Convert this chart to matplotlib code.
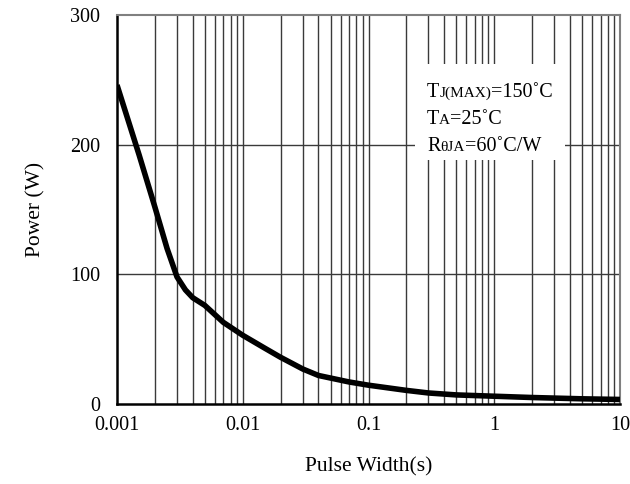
import numpy as np
import matplotlib.pyplot as plt
from matplotlib.ticker import FixedLocator, NullFormatter

plt.rcParams['font.family'] = ['Liberation Serif', 'DejaVu Serif']

# curve
pulse_width = [0.001, 0.0015, 0.002, 0.0025, 0.003, 0.0035, 0.004, 0.005, 0.007,
               0.01, 0.015, 0.02, 0.03, 0.04, 0.05, 0.07, 0.1, 0.2, 0.3, 0.5, 1, 2, 5, 10]
power = [246, 192, 152, 120, 98, 88, 82, 76, 63,
         53, 43, 36, 27, 22, 20, 17, 14.5, 10.5, 8.5, 7, 6, 5, 4, 3.5]

x_ticks = [0.001, 0.01, 0.1, 1, 10]
x_labels = ['0.001', '0.01', '0.1', '1', '10']
y_ticks = [0, 100, 200, 300]

fig = plt.figure(figsize=(6.3, 4.84), dpi=100)
ax = fig.add_axes([117 / 630, 80 / 484, 503 / 630, 389 / 484])

ax.set_xscale('log')
ax.set_xlim(0.001, 10)
ax.set_ylim(0, 300)

minor = [m * 10.0 ** e for e in range(-3, 1) for m in range(2, 10)]
ax.xaxis.set_major_locator(FixedLocator(x_ticks))
ax.xaxis.set_minor_locator(FixedLocator(minor))
ax.xaxis.set_minor_formatter(NullFormatter())
ax.set_xticks(x_ticks)
ax.set_xticklabels(x_labels)
ax.set_yticks(y_ticks)

for v in minor + x_ticks[1:-1]:
    ax.axvline(v, color='#3a3a3a', lw=1.0, zorder=1)
for v in [100, 200]:
    ax.axhline(v, color='#3a3a3a', lw=1.0, zorder=1)

ax.tick_params(which='both', length=0, labelsize=14.5)
ax.tick_params(axis='x', pad=9)
ax.tick_params(axis='y', pad=12)

for s in ['top', 'right']:
    ax.spines[s].set_color('#808080')
    ax.spines[s].set_linewidth(1.5)
for s in ['left', 'bottom']:
    ax.spines[s].set_color('black')
    ax.spines[s].set_linewidth(1.8)

ax.plot(pulse_width, power, color='black', lw=4, zorder=3, solid_capstyle='butt')

ax.set_xlabel('Pulse Width(s)', fontsize=15.5, labelpad=16)
ax.set_ylabel('Power (W)', fontsize=15.5, labelpad=18)

# white box behind the conditions text
ax.add_patch(plt.Rectangle((415 / 630, 324 / 484), 150 / 630, 96 / 484,
                           transform=fig.transFigure, facecolor='white',
                           edgecolor='none', zorder=2))

renderer = fig.canvas.get_renderer()


def rich_line(x0, y0, pieces):
    x = x0
    for txt, size in pieces:
        t = fig.text(x / 630, y0 / 484, txt, fontsize=size, va='baseline',
                     ha='left', zorder=5)
        bb = t.get_window_extent(renderer=renderer)
        x += bb.width


big, small = 14.5, 11
rich_line(427, 387, [('T', big), ('J(MAX)', small), ('=150˚C', big)])
rich_line(427, 360, [('T', big), ('A', small), ('=25˚C', big)])
rich_line(427, 333, [('R', big), ('θJA', small), ('=60˚C/W', big)])

fig.savefig('out.png', dpi=100)
